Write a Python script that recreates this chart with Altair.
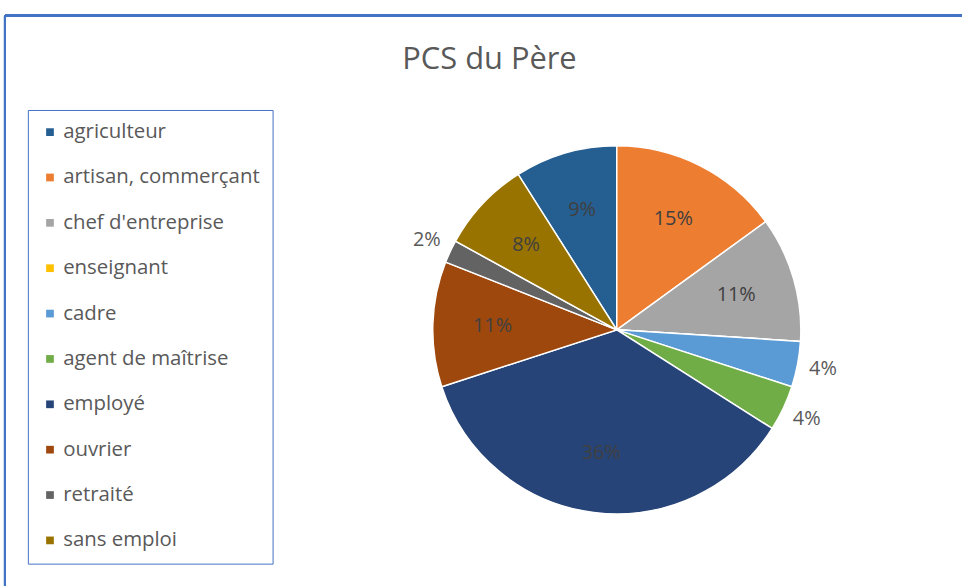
import altair as alt
import pandas as pd
import math

categories = ["agriculteur", "artisan, commerçant", "chef d'entreprise", "enseignant",
              "cadre", "agent de maîtrise", "employé", "ouvrier", "retraité", "sans emploi"]
values = [9, 15, 11, 0, 4, 4, 36, 11, 2, 8]
colors = ["#255E91", "#ED7D31", "#A5A5A5", "#FFC000", "#5B9BD5",
          "#70AD47", "#264478", "#9E480E", "#636363", "#997300"]

df = pd.DataFrame({
    "cat": categories,
    "val": values,
    "idx": list(range(len(categories))),
    "lab_in": [f"{v}%" if v >= 5 else "" for v in values],
    "lab_out": [f"{v}%" if 0 < v < 5 else "" for v in values],
})

start = -2 * math.pi * 0.09
theta_scale = alt.Scale(range=[start, start + 2 * math.pi])
color_scale = alt.Scale(domain=categories, range=colors)

CX, CY = 615, 316
R = 185

base = alt.Chart(df)
theta = alt.Theta("val:Q", stack=True, scale=theta_scale)

pie = base.mark_arc(radius=R, stroke="white", strokeWidth=1.5,
                    x=CX, y=CY).encode(
    theta=theta,
    order=alt.Order("idx:Q"),
    color=alt.Color("cat:N", scale=color_scale, sort=categories,
                    legend=alt.Legend(title=None, orient="none",
                                      legendX=23, legendY=95,
                                      padding=12, rowPadding=24.6,
                                      symbolType="square", symbolSize=60,
                                      symbolStrokeWidth=0,
                                      labelFontSize=20.5, labelColor="#595959",
                                      labelFont="Open Sans", labelOffset=3,
                                      labelLimit=300,
                                      strokeColor="#4472C4",
                                      fillColor="white")),
)

inside = base.mark_text(
    radius=125, x=CX, y=CY, fontSize=20, font="Open Sans", color="#404040").encode(
    theta=theta,
    order=alt.Order("idx:Q"),
    text="lab_in:N",
)

outside = base.mark_text(
    radius=R + 26, x=CX, y=CY, fontSize=20, font="Open Sans", color="#595959").encode(
    theta=theta,
    order=alt.Order("idx:Q"),
    text="lab_out:N",
)

border_top = alt.Chart(df).mark_rule(color="#4472C4", strokeWidth=2).encode(
    x=alt.value(0), x2=alt.value(1000), y=alt.value(0))
border_left = alt.Chart(df).mark_rule(color="#4472C4", strokeWidth=2).encode(
    x=alt.value(0), y=alt.value(0), y2=alt.value(700))

chart = alt.layer(border_top, border_left, pie, inside, outside).properties(
    width=962, height=586,
    autosize=alt.AutoSizeParams(type="none"),
    padding={"left": 5, "top": 14, "right": 0, "bottom": 0},
    title=alt.TitleParams("PCS du Père", anchor="middle", fontSize=31,
                          font="Open Sans", fontWeight="normal",
                          color="#595959", dx=6, dy=97, baseline="bottom"),
).configure_view(stroke=None)

chart.save("out.html", embed_options={"renderer": "svg", "actions": False})
